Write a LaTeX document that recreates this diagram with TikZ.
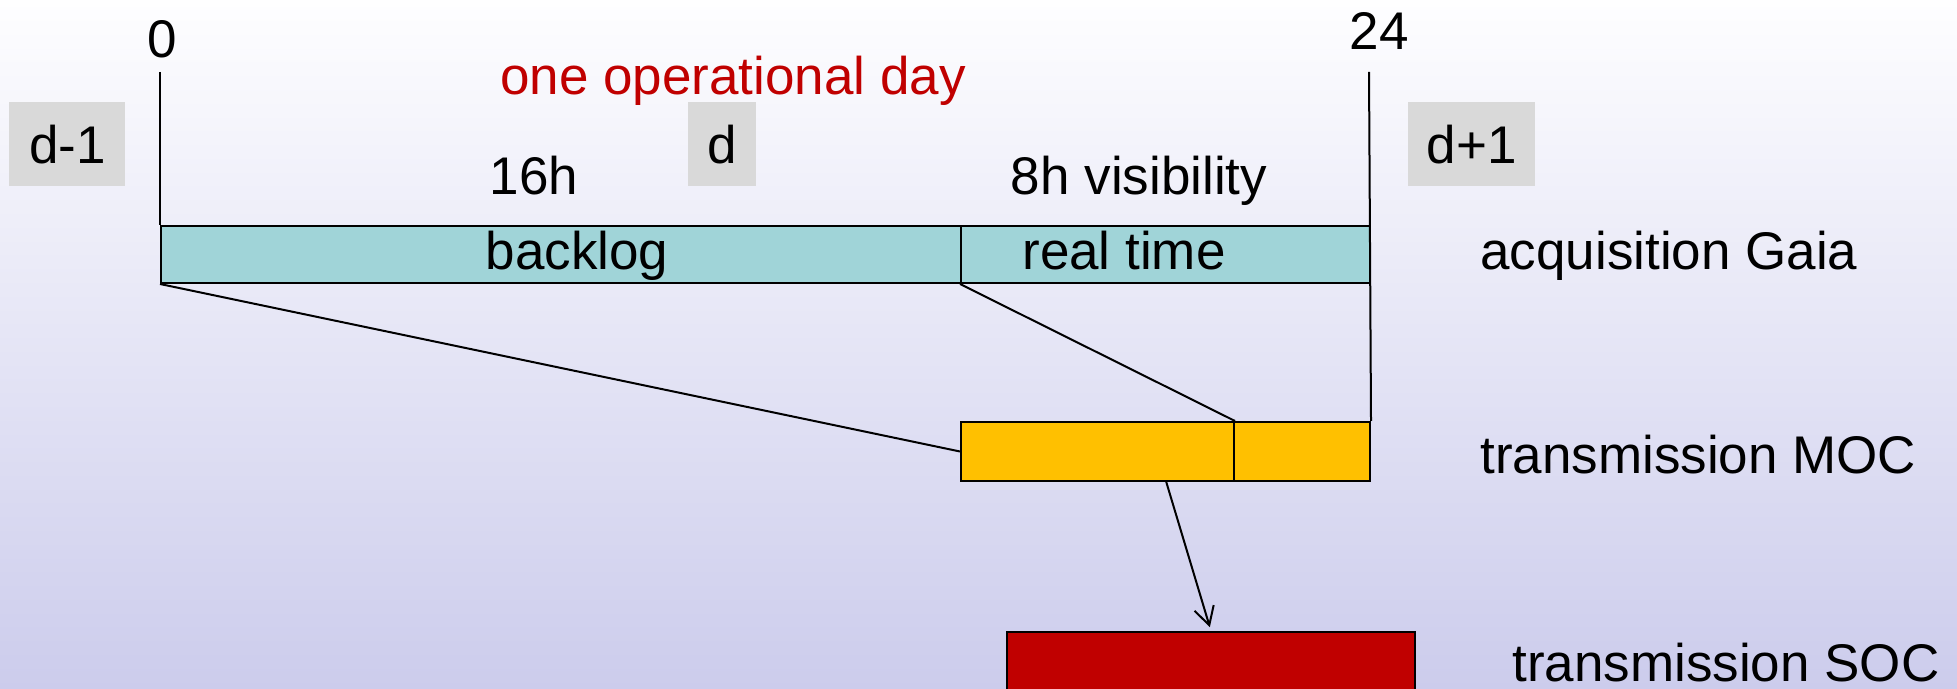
\documentclass[tikz,border=0pt]{standalone}
\usepackage{fontspec}
\setmainfont{Liberation Sans}
\usetikzlibrary{arrows.meta,calc}
\definecolor{teal1}{RGB}{160,212,216}
\definecolor{gold1}{RGB}{255,192,0}
\definecolor{red1}{RGB}{192,0,0}
\definecolor{gray1}{RGB}{217,217,217}
\definecolor{bgtop}{RGB}{254,254,255}
\definecolor{bgmid}{RGB}{243,243,250}
\definecolor{bgbot}{RGB}{204,204,236}
\begin{document}
\begin{tikzpicture}[x=0.5pt,y=-0.5pt,
  font=\fontsize{26.5}{30}\selectfont,
  box/.style={draw=black,line width=1pt,inner sep=0pt,anchor=north west},
  daybox/.style={fill=gray1,inner sep=0pt,anchor=north west,minimum height=42pt},
  lbl/.style={inner sep=0pt},
  conn/.style={line width=1pt}]
\clip (0,0) rectangle (1957,689);
\shade[top color=bgtop,middle color=bgmid,bottom color=bgbot] (0,0) rectangle (1957,689);

% day boxes
\node[daybox,minimum width=58pt] (dm1) at (9,102) {d-1};
\node[daybox,minimum width=34pt] (d0) at (688,102) {d};
\node[daybox,minimum width=63.5pt] (dp1) at (1408,102) {d+1};

% bars
\node[box,fill=teal1,minimum width=400pt,minimum height=28.5pt] (backlog) at (160,225) {};
\node[box,fill=teal1,minimum width=204.5pt,minimum height=28.5pt] (realtime) at (960,225) {};
\node[box,fill=gold1,minimum width=136.5pt,minimum height=29.5pt] (moca) at (960,421) {};
\node[box,fill=gold1,minimum width=68pt,minimum height=29.5pt] (mocb) at (1233,421) {};
\node[box,fill=red1,minimum width=204pt,minimum height=50pt] (soc) at (1006,631) {};

% labels
\node[lbl,anchor=base] (l0) at (162,58) {0};
\node[lbl,anchor=base] (l24) at (1379,50) {24};
\node[lbl,anchor=base,text=red1] (day) at (733,95) {one operational day};
\node[lbl,anchor=base] (h16) at (534,195) {16h};
\node[lbl,anchor=base] (h8) at (1139,195) {8h visibility};
\node[lbl,anchor=base] (tback) at (577,270) {backlog};
\node[lbl,anchor=base] (treal) at (1124,270) {real time};
\node[lbl,anchor=base west] (acq) at (1480,270) {acquisition Gaia};
\node[lbl,anchor=base west] (tmoc) at (1480,473) {transmission MOC};
\node[lbl,anchor=base west] (tsoc) at (1512,681) {transmission SOC};

% connectors
\coordinate (t0) at (160,72);
\coordinate (t24) at (1369,72);
\draw[conn] (t0) -- (backlog.north west);
\draw[conn] (backlog.south west) -- (moca.west);
\draw[conn] (realtime.south west) -- (moca.north east);
\draw[conn] (t24) -- (mocb.north east);
\draw[conn,-{Straight Barb[length=9pt,width=10pt]},shorten >=2pt]
  ($(moca.south west)!0.75!(moca.south east)$) -- (soc.north);
\end{tikzpicture}
\end{document}
